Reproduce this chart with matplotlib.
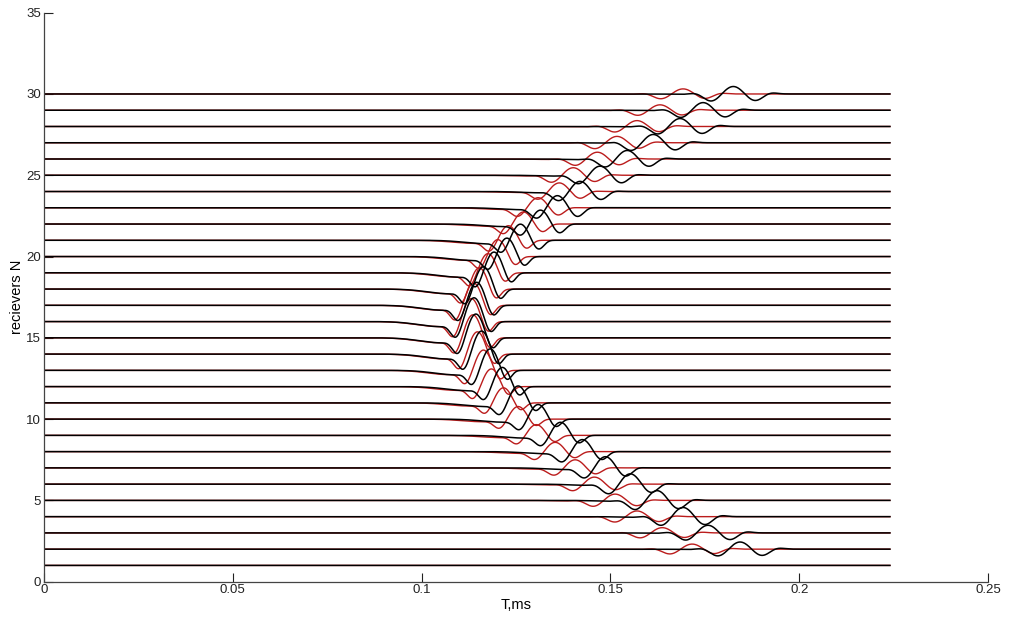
import numpy as np
import matplotlib
matplotlib.use('Agg')
import matplotlib.pyplot as plt

# receiver numbers (trace baselines)
receivers = list(range(1, 31))

# black traces: time of main peak and peak amplitude (in trace units)
black_peak_t = [0.1900, 0.1843, 0.1758, 0.1692, 0.1623, 0.1552, 0.1486, 0.1425, 0.1367, 0.1308,
                0.1255, 0.1213, 0.1181, 0.1158, 0.1143, 0.1138, 0.1145, 0.1163, 0.1191, 0.1225,
                0.1261, 0.1314, 0.1359, 0.1419, 0.1472, 0.1544, 0.1613, 0.1684, 0.1745, 0.1825]
black_amp = [0.0, 0.45, 0.48, 0.58, 0.62, 0.66, 0.72, 0.78, 0.85, 0.95,
             1.10, 1.25, 1.40, 1.50, 1.55, 1.55, 1.50, 1.45, 1.35, 1.20,
             1.05, 0.90, 0.78, 0.65, 0.58, 0.54, 0.52, 0.50, 0.48, 0.47]

# wavelet shape per trace: leading / trailing envelope widths, depth of slow precursor dip
width_pre = [0.0060, 0.0095, 0.0095, 0.0092, 0.0088, 0.0084, 0.0078, 0.0072, 0.0066, 0.0062,
             0.0060, 0.0059, 0.0058, 0.0058, 0.0058, 0.0058, 0.0058, 0.0058, 0.0059, 0.0060,
             0.0063, 0.0068, 0.0074, 0.0080, 0.0086, 0.0090, 0.0093, 0.0095, 0.0095, 0.0095]
width_post = [0.0055, 0.0095, 0.0095, 0.0092, 0.0088, 0.0082, 0.0075, 0.0068, 0.0062, 0.0058,
              0.0055, 0.0054, 0.0053, 0.0053, 0.0053, 0.0053, 0.0053, 0.0053, 0.0054, 0.0056,
              0.0060, 0.0066, 0.0073, 0.0080, 0.0086, 0.0090, 0.0093, 0.0095, 0.0095, 0.0095]
pre_depth = [0.0, 0.08, 0.08, 0.10, 0.12, 0.14, 0.16, 0.18, 0.20, 0.20,
             0.20, 0.20, 0.20, 0.20, 0.20, 0.20, 0.20, 0.20, 0.20, 0.20,
             0.20, 0.18, 0.16, 0.14, 0.12, 0.10, 0.08, 0.08, 0.08, 0.08]

# red traces: same receivers, earlier arrivals, weaker at far offsets
red_peak_t = [0.1900, 0.1716, 0.1637, 0.1570, 0.1512, 0.1457, 0.1406, 0.1353, 0.1303, 0.1255,
              0.1216, 0.1184, 0.1163, 0.1147, 0.1135, 0.1131, 0.1137, 0.1152, 0.1175, 0.1201,
              0.1229, 0.1269, 0.1308, 0.1364, 0.1401, 0.1465, 0.1517, 0.1570, 0.1631, 0.1692]
red_amp = [0.0, 0.32, 0.33, 0.36, 0.40, 0.45, 0.52, 0.60, 0.70, 0.82,
           0.98, 1.15, 1.32, 1.45, 1.50, 1.50, 1.45, 1.38, 1.25, 1.10,
           0.95, 0.78, 0.65, 0.55, 0.48, 0.43, 0.40, 0.37, 0.34, 0.32]

T_END = 0.224
PERIOD = 0.0125
PRE_SHIFT = 0.009
PRE_WIDTH = 0.008

x_ticks = [0, 0.05, 0.1, 0.15, 0.2, 0.25]
x_tick_labels = ['0', '0.05', '0.1', '0.15', '0.2', '0.25']
y_ticks = [0, 5, 10, 15, 20, 25, 30, 35]


def wavelet(t, tp, amp, w_pre, w_post, depth):
    dt = t - tp
    w = np.where(dt < 0, w_pre, w_post)
    main_part = np.exp(-(dt / w) ** 4) * np.cos(2 * np.pi * dt / PERIOD)
    slow_dip = -depth * np.exp(-((dt + PRE_SHIFT) / PRE_WIDTH) ** 2)
    return amp * (main_part + slow_dip)


def main():
    SMFONT = 9.5
    plt.rcParams['font.family'] = ['Liberation Sans', 'DejaVu Sans']

    fig = plt.figure(figsize=(10.10, 6.19), dpi=100)
    ax = fig.add_axes([0.0436, 0.0603, 0.9347, 0.9192])

    t = np.linspace(0, T_END, 3000)
    for i, n in enumerate(receivers):
        red = n + wavelet(t, red_peak_t[i], red_amp[i], width_pre[i], width_post[i], pre_depth[i])
        ax.plot(t, red, color='#bb1c1c', lw=1.0)
    for i, n in enumerate(receivers):
        blk = n + wavelet(t, black_peak_t[i], black_amp[i], width_pre[i], width_post[i], pre_depth[i])
        ax.plot(t, blk, color='black', lw=1.1)

    ax.set_xlim(0, 0.25)
    ax.set_ylim(0, 35)
    ax.set_xticks(x_ticks)
    ax.set_xticklabels(x_tick_labels)
    ax.set_yticks(y_ticks)
    ax.tick_params(direction='in', length=6.5, width=0.8, labelsize=SMFONT, colors='#222222', pad=2)
    for side in ['top', 'right']:
        ax.spines[side].set_visible(False)
    for side in ['left', 'bottom']:
        ax.spines[side].set_color('#444444')
        ax.spines[side].set_linewidth(0.9)

    ax.set_xlabel('T,ms', fontsize=10.5, labelpad=1)
    ax.set_ylabel('recievers N', fontsize=10.5, labelpad=2)

    fig.savefig('out.png', dpi=100)


if __name__ == "__main__":
    main()
